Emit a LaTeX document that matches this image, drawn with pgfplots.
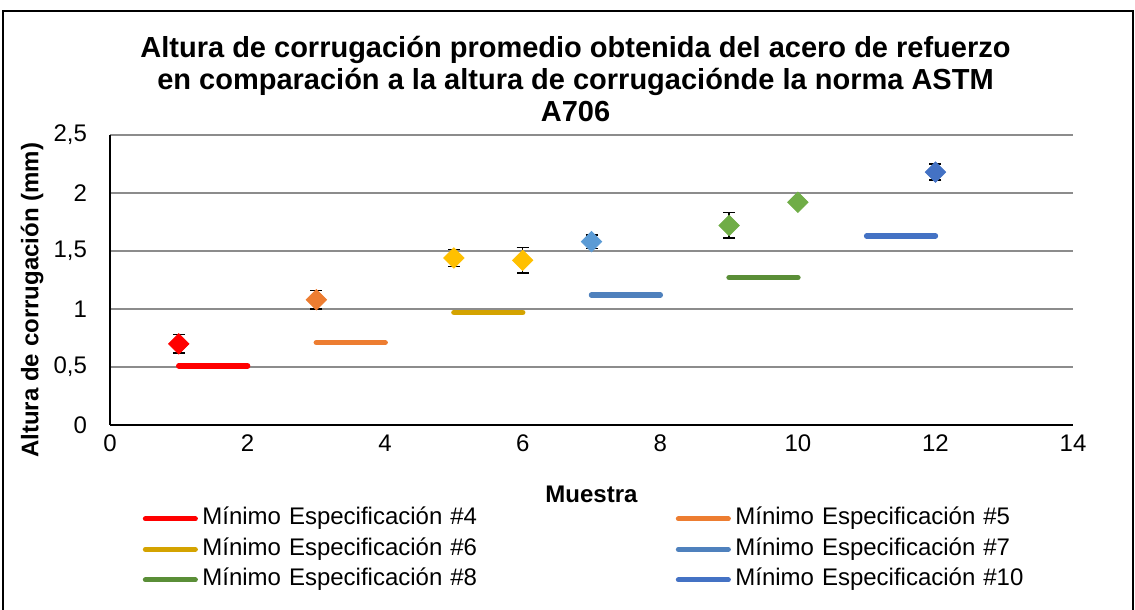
\documentclass[border=0pt]{standalone}
\usepackage{pgfplots}
\pgfplotsset{compat=1.18}
\usepackage{fontspec}
\setmainfont{Liberation Sans}
\definecolor{c4}{HTML}{FF0000}
\definecolor{c5}{HTML}{ED7D31}
\definecolor{c6m}{HTML}{FFC000}
\definecolor{c6l}{HTML}{D4A300}
\definecolor{c7m}{HTML}{5B9BD5}
\definecolor{c7l}{HTML}{4F81BD}
\definecolor{c8m}{HTML}{70AD47}
\definecolor{c8l}{HTML}{5A8E37}
\definecolor{c10}{HTML}{4472C4}
\definecolor{gridc}{HTML}{8C8C8C}
\begin{document}
\begin{tikzpicture}
\useasboundingbox (0pt,0pt) rectangle (567.5pt,305pt);
\draw[black, line width=1pt] (1.5pt,-5pt) -- (1.5pt,299.5pt) -- (566.5pt,299.5pt) -- (566.5pt,-5pt);
\begin{axis}[
  at={(55pt,92.5pt)}, anchor=south west,
  scale only axis, width=481.5pt, height=145pt,
  xmin=0, xmax=14, ymin=0, ymax=2.5,
  xtick={0,2,...,14}, ytick={0,0.5,...,2.5},
  axis x line*=bottom, axis y line*=left,
  axis line style={-, black, line width=0.75pt},
  major tick length=0pt,
  ymajorgrids, grid style={gridc, line width=0.9pt},
  /pgf/number format/assume math mode=true,
  /pgf/number format/use comma,
  tick label style={font=\fontsize{12}{14}\selectfont},
  xticklabel style={yshift=-1.5pt},
  yticklabel style={xshift=-8pt},
  xlabel={Muestra}, ylabel={Altura de corrugación (mm)},
  label style={font=\bfseries\fontsize{12}{14}\selectfont},
  xlabel style={at={(rel axis cs:0.5,0)}, anchor=center, yshift=-34.5pt},
  ylabel style={at={(rel axis cs:-0.081,0.43)}, anchor=center},
  title={Altura de corrugación promedio obtenida del acero de refuerzo\\en comparación a la altura de corrugaciónde la norma ASTM\\A706},
  title style={at={(rel axis cs:0.4834,1)}, anchor=south, yshift=0.5pt, inner sep=0pt, align=center, font=\bfseries\fontsize{14.5}{16}\selectfont},
  legend columns=2,
  legend image code/.code={\draw[#1, line width=2.5pt, line cap=round] (0pt,0pt) -- (25pt,0pt);},
  legend style={at={(rel axis cs:0.0337,0)}, anchor=north west, yshift=-40.75pt, draw=none, fill=none, inner sep=0pt,
    row sep=3.25pt,
    nodes={inner sep=0pt, text height=9pt, text depth=3pt, text width=155pt, align=left, font=\fontsize{12}{14}\selectfont},
    /tikz/every odd column/.append style={column sep=2.25pt},
    /tikz/every even column/.append style={column sep=81.75pt}},
]
\addplot[c4, line width=2.75pt, line cap=round] coordinates {(1,0.51) (2,0.51)};
\addlegendentry{Mínimo Especificación \#4}
\addplot[c5, line width=2.75pt, line cap=round] coordinates {(3,0.71) (4,0.71)};
\addlegendentry{Mínimo Especificación \#5}
\addplot[c6l, line width=2.75pt, line cap=round] coordinates {(5,0.97) (6,0.97)};
\addlegendentry{Mínimo Especificación \#6}
\addplot[c7l, line width=2.75pt, line cap=round] coordinates {(7,1.12) (8,1.12)};
\addlegendentry{Mínimo Especificación \#7}
\addplot[c8l, line width=2.75pt, line cap=round] coordinates {(9,1.27) (10,1.27)};
\addlegendentry{Mínimo Especificación \#8}
\addplot[c10, line width=2.75pt, line cap=round] coordinates {(11,1.63) (12,1.63)};
\addlegendentry{Mínimo Especificación \#10}
\pgfplotsset{every axis plot/.append style={forget plot}}
\pgfplotsset{ptstyle/.style={only marks, mark=square*, mark size=3.6pt, mark options={rotate=45, draw=#1, fill=#1},
  error bars/.cd, y dir=both, y explicit, error bar style={black, line width=0.75pt},
  error mark options={black, line width=0.75pt, mark size=3pt, rotate=90}}}
\addplot[ptstyle=c4] coordinates {(1,0.70) +- (0,0.08)};
\addplot[ptstyle=c5] coordinates {(3,1.08) +- (0,0.08)};
\addplot[ptstyle=c6m] coordinates {(5,1.44) +- (0,0.075) (6,1.42) +- (0,0.11)};
\addplot[ptstyle=c7m] coordinates {(7,1.58) +- (0,0.06)};
\addplot[ptstyle=c8m] coordinates {(9,1.72) +- (0,0.11) (10,1.92) +- (0,0.03)};
\addplot[ptstyle=c10] coordinates {(12,2.18) +- (0,0.07)};
\end{axis}
\end{tikzpicture}
\end{document}
